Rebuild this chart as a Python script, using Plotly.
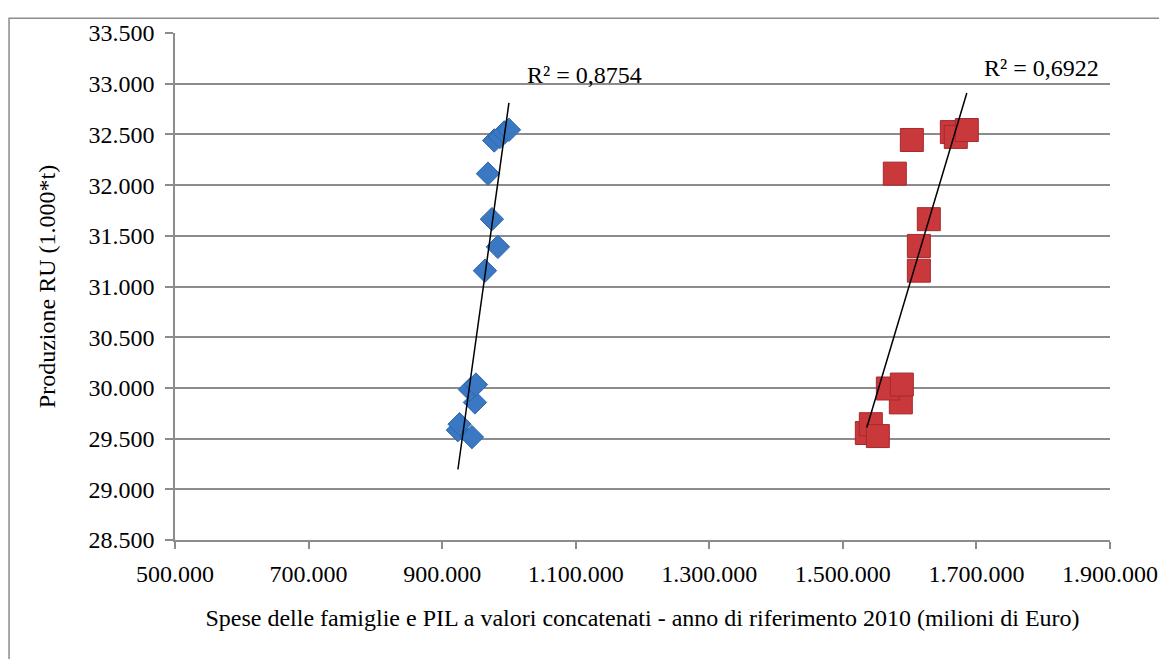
import numpy as np
import plotly.graph_objects as go

# Spese delle famiglie (blue) vs produzione RU
spese_x = [923600, 926100, 944600, 949100, 941600, 950600, 964100,
           983500, 974500, 968600, 978000, 986500, 993000, 1000000]
spese_y = [29584, 29642, 29515, 29857, 29984, 30033, 31156,
           31391, 31664, 32113, 32440, 32475, 32520, 32545]

# PIL (red) vs produzione RU
pil_x = [1535900, 1541900, 1552400, 1586800, 1567400, 1588300, 1613800,
         1613800, 1628700, 1577800, 1603300, 1663200, 1669100, 1685600]
pil_y = [29555, 29642, 29525, 29857, 29994, 30033, 31156,
         31400, 31664, 32113, 32445, 32523, 32475, 32543]

r2_labels = ['R² = 0,8754', 'R² = 0,6922']

FONT = 'Liberation Serif'
GRID = '#8c8c8c'
FS = 24

def trend(xs, ys):
    # linear trendline over the x range, like Excel does
    b, a = np.polyfit(xs, ys, 1)
    xx = np.array([min(xs), max(xs)])
    return xx, a + b * xx

fig = go.Figure()

fig.add_trace(go.Scatter(
    x=spese_x, y=spese_y, mode='markers', name='Spese famiglie',
    marker=dict(symbol='diamond', size=18, color='#3a78c4',
                line=dict(color='#2f65a8', width=1))))
fig.add_trace(go.Scatter(
    x=pil_x, y=pil_y, mode='markers', name='PIL',
    marker=dict(symbol='square', size=23, color='#c9383a',
                line=dict(color='#a52a2d', width=1))))

for xs, ys in [(spese_x, spese_y), (pil_x, pil_y)]:
    tx, ty = trend(xs, ys)
    fig.add_trace(go.Scatter(x=tx, y=ty, mode='lines', showlegend=False,
                             line=dict(color='black', width=1.5)))

fig.add_annotation(x=1024000, y=33090, text=r2_labels[0], showarrow=False,
                   xanchor='left', font=dict(family=FONT, size=FS, color='black'))
fig.add_annotation(x=1708000, y=33150, text=r2_labels[1], showarrow=False,
                   xanchor='left', font=dict(family=FONT, size=FS, color='black'))

# outer chart frame
fig.add_shape(type='rect', xref='paper', yref='paper',
              x0=-0.1775, x1=1.2, y0=-0.4, y1=1.0293,
              line=dict(color=GRID, width=1.5), layer='below')

fig.update_layout(
    width=1167, height=659,
    margin=dict(l=167, r=65, t=20, b=127),
    paper_bgcolor='white', plot_bgcolor='white',
    showlegend=False,
    separators=',.',
    font=dict(family=FONT, size=FS, color='black'),
    xaxis=dict(range=[500000, 1900000], dtick=200000, tick0=500000,
               tickformat=',.0f', showgrid=False, zeroline=False,
               showline=True, linecolor=GRID, linewidth=1.5,
               ticks='outside', ticklen=7, tickcolor=GRID, tickwidth=1.5,
               ticklabelstandoff=4,
               tickfont=dict(family=FONT, size=FS, color='black'),
               title=dict(text='Spese delle famiglie e PIL a valori concatenati - anno di riferimento 2010 (milioni di Euro)',
                          font=dict(family=FONT, size=FS, color='black'), standoff=24)),
    yaxis=dict(range=[28500, 33500], dtick=500,
               tickformat=',.0f', showgrid=True, gridcolor=GRID, gridwidth=1.5,
               zeroline=False, showline=True, linecolor=GRID, linewidth=1.5,
               ticks='outside', ticklen=8, tickcolor=GRID, tickwidth=1.5,
               ticklabelstandoff=6,
               tickfont=dict(family=FONT, size=FS, color='black'),
               title=dict(text='Produzione RU (1.000*t)',
                          font=dict(family=FONT, size=FS, color='black'), standoff=26)),
)

fig.write_html("out.html")
